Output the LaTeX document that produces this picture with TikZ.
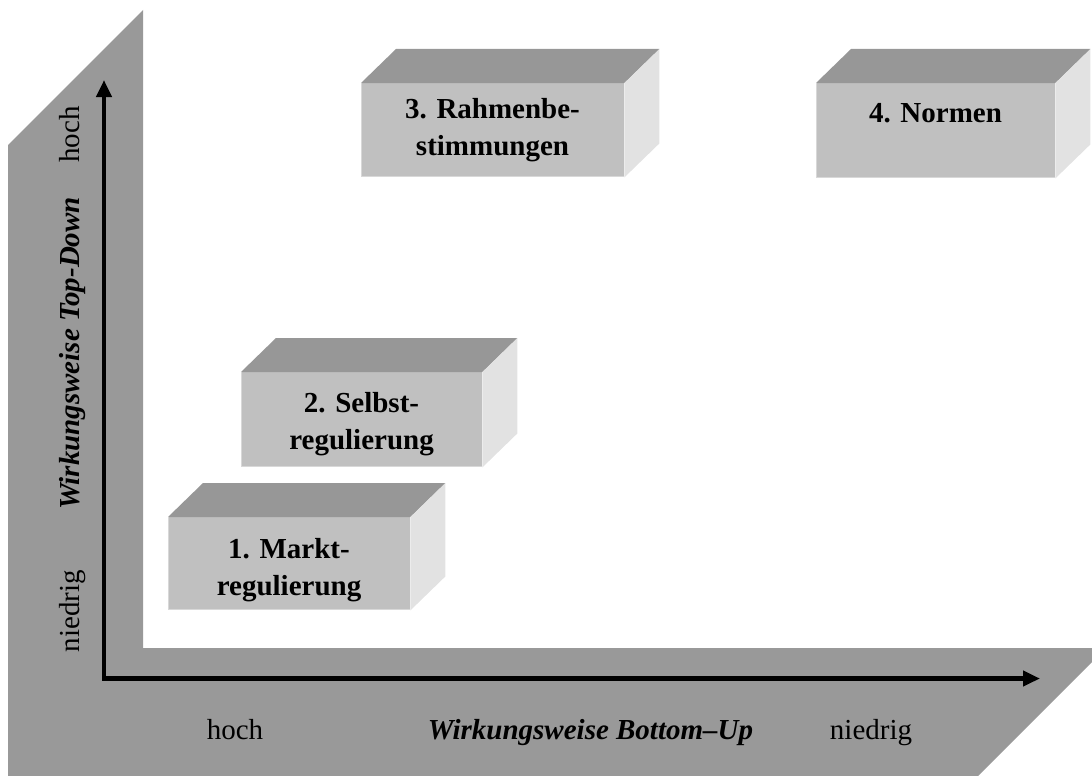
\documentclass[tikz,border=0pt]{standalone}
\usepackage{fontspec}
\setmainfont{Liberation Serif}
\usetikzlibrary{arrows.meta,calc}
\definecolor{bandgray}{HTML}{999999}
\definecolor{frontgray}{HTML}{C0C0C0}
\definecolor{topgray}{HTML}{979797}
\definecolor{sidegray}{HTML}{E2E2E2}
\definecolor{edgegray}{HTML}{D8D8D8}
\tikzset{
  front/.style={fill=frontgray, draw=none, inner sep=0pt, anchor=north west},
  topface/.style={fill=topgray, draw=none},
  sideface/.style={fill=sidegray, draw=none},
  edgeline/.style={draw=edgegray, line width=1.2pt},
  boxtext/.style={inner sep=0pt, anchor=base, font=\fontsize{29}{37}\selectfont\bfseries},
  axlabel/.style={inner sep=0pt, anchor=base, font=\fontsize{29}{35}\selectfont},
  axtitle/.style={inner sep=0pt, anchor=base, font=\fontsize{29}{35}\selectfont\bfseries\itshape},
  axisline/.style={line width=4.5pt, line join=miter, {Triangle[length=17pt,width=15pt]}-{Triangle[length=17pt,width=15pt]}}
}
\newcommand{\cubebox}[1]{%
  \fill[topface] (#1.north west) -- (#1.north east) -- ++(35,-34) -- ($(#1.north west)+(35,-34)$) -- cycle;
  \fill[sideface] (#1.north east) -- ++(35,-34) -- ($(#1.south east)+(35,-34)$) -- (#1.south east) -- cycle;
  \draw[edgeline] ($(#1.north west)+(0.6,0)$) -- ($(#1.south west)+(0.6,-0.6)$) -- ($(#1.south east)+(0,-0.6)$);
}
\begin{document}
\begin{tikzpicture}[x=1pt,y=-1pt]
\useasboundingbox (0,0) rectangle (1092,776);
% gray L band
\fill[bandgray] (8,145) -- (143,10) -- (143,648) -- (1092,648) -- (1092,662) -- (978,776) -- (8,776) -- cycle;
% axes
\coordinate (vtip) at (104,80);
\coordinate (corner) at (104,678.5);
\coordinate (htip) at (1040,678.5);
\draw[axisline] (vtip) -- (corner) -- (htip);
% boxes
\node[front, minimum width=263, minimum height=94] (b3) at (361,83) {};
\cubebox{b3}
\node[front, minimum width=239, minimum height=95] (b4) at (816,83) {};
\cubebox{b4}
\node[front, minimum width=241, minimum height=95] (b2) at (241,372) {};
\cubebox{b2}
\node[front, minimum width=242, minimum height=93] (b1) at (168,517) {};
\cubebox{b1}
% box texts
\node[boxtext] (t3) at (492.5,118) {\begin{tabular}[t]{@{}c@{}}3. Rahmenbe-\\stimmungen\end{tabular}};
\node[boxtext] (t4) at (935.5,122) {4. Normen};
\node[boxtext] (t2) at (361.5,412) {\begin{tabular}[t]{@{}c@{}}2. Selbst-\\regulierung\end{tabular}};
\node[boxtext] (t1) at (289,558) {\begin{tabular}[t]{@{}c@{}}1. Markt-\\regulierung\end{tabular}};
% axis labels
\node[axlabel, rotate=90] (yhigh) at (79,134.5) {hoch};
\node[axlabel, rotate=90] (ylow) at (79,611) {niedrig};
\node[axtitle, rotate=90] (ytitle) at (79,353.5) {Wirkungsweise Top-Down};
\node[axlabel] (xhigh) at (235,739) {hoch};
\node[axtitle] (xtitle) at (590.5,739) {Wirkungsweise Bottom–Up};
\node[axlabel] (xlow) at (871,739) {niedrig};
\end{tikzpicture}
\end{document}
